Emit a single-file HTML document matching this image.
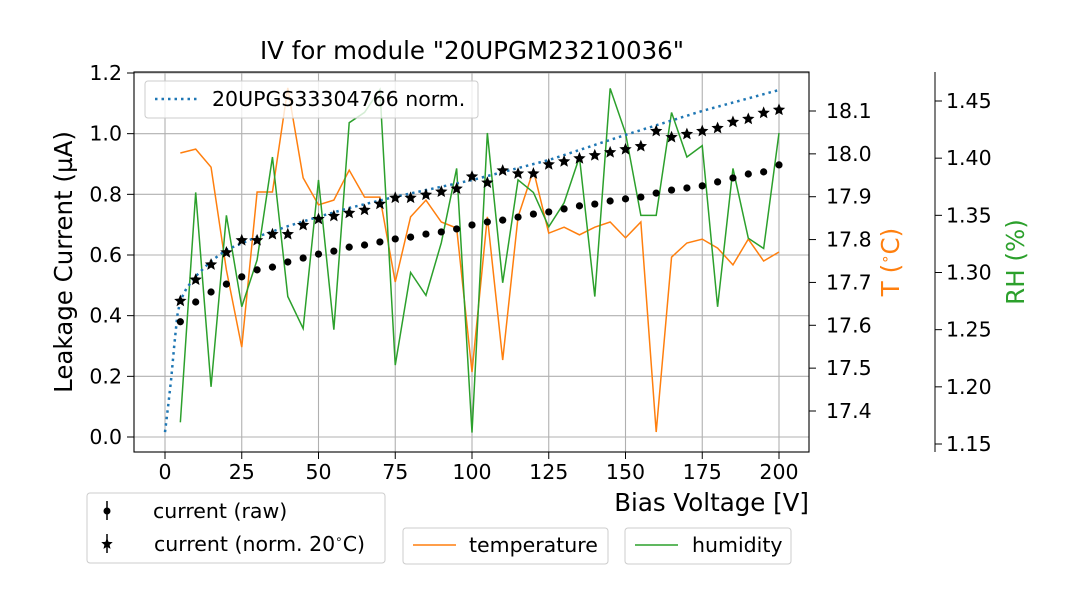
<!DOCTYPE html>
<html><head><meta charset="utf-8">
<style>
body{margin:0;background:#fff;}
svg{display:block;font-family:"DejaVu Sans","Liberation Sans",sans-serif;}
</style></head>
<body>
<svg id="chart" width="1080" height="600" viewBox="0 0 1080 600" xmlns="http://www.w3.org/2000/svg">
<rect width="1080" height="600" fill="#fff"/>
<g id="grid"></g>
<g id="series"></g>
<g id="axes"></g>
<text x="472" y="59" font-size="24.5" text-anchor="middle">IV for module "20UPGM23210036"</text>
<text x="809" y="511" font-size="24.5" text-anchor="end">Bias Voltage [V]</text>
<text transform="translate(72,262) rotate(-90)" font-size="24.5" text-anchor="middle">Leakage Current (µA)</text>
<text transform="translate(899,262) rotate(-90)" font-size="24.5" fill="#ff7f0e" text-anchor="middle">T (<tspan font-size="15" dy="-9">∘</tspan><tspan dy="9">C)</tspan></text>
<text transform="translate(1024,262) rotate(-90)" font-size="24.5" fill="#2ca02c" text-anchor="middle">RH (%)</text>

<g>
<rect x="145" y="81" width="333" height="37" rx="3" fill="#fff" fill-opacity="0.8" stroke="#ccc"/>
<line x1="155" y1="99" x2="199" y2="99" stroke="#1f77b4" stroke-width="2.5" stroke-dasharray="2.5,4"/>
<text x="212" y="106" font-size="20.5">20UPGS33304766 norm.</text>
</g>
<g>
<rect x="87" y="493" width="298" height="70" rx="3" fill="#fff" stroke="#ccc"/>
<line x1="107" y1="501" x2="107" y2="520" stroke="#000" stroke-width="1.5"/>
<circle cx="107" cy="511" r="3.5" fill="#000"/>
<text x="153" y="518" font-size="20.5">current (raw)</text>
<line x1="107" y1="534" x2="107" y2="553" stroke="#000" stroke-width="1.5"/>
<polygon id="legstar" points="" fill="#000"/>
<text x="154" y="551" font-size="20.5">current (norm. 20<tspan font-size="12" dy="-8">∘</tspan><tspan dy="8">C)</tspan></text>
</g>
<g>
<rect x="403" y="528" width="205" height="36" rx="3" fill="#fff" stroke="#ccc"/>
<line x1="413" y1="545" x2="456" y2="545" stroke="#ff7f0e" stroke-width="1.5"/>
<text x="469" y="552" font-size="20.5">temperature</text>
</g>
<g>
<rect x="625" y="528" width="166" height="36" rx="3" fill="#fff" stroke="#ccc"/>
<line x1="635" y1="545" x2="678" y2="545" stroke="#2ca02c" stroke-width="1.5"/>
<text x="692" y="552" font-size="20.5">humidity</text>
</g>
</svg>
<script>
const voltages=[5,10,15,20,25,30,35,40,45,50,55,60,65,70,75,80,85,90,95,100,105,110,115,120,125,130,135,140,145,150,155,160,165,170,175,180,185,190,195,200];
const currentRaw=[0.38,0.445,0.478,0.504,0.528,0.551,0.56,0.577,0.59,0.603,0.613,0.626,0.633,0.643,0.653,0.659,0.669,0.676,0.686,0.699,0.709,0.715,0.725,0.735,0.742,0.752,0.762,0.768,0.778,0.785,0.791,0.804,0.814,0.821,0.828,0.841,0.854,0.867,0.874,0.897];
const currentNorm=[0.45,0.52,0.57,0.61,0.65,0.65,0.67,0.67,0.70,0.72,0.73,0.74,0.75,0.77,0.79,0.79,0.80,0.81,0.82,0.86,0.84,0.88,0.87,0.87,0.90,0.91,0.92,0.93,0.94,0.95,0.96,1.01,0.99,1.00,1.01,1.02,1.04,1.05,1.07,1.08];
const refVoltages=[0,1,2,3,4,5,7,10,15,20,30,40,50,60,75,100,125,150,175,200];
const refCurrent=[0.016,0.10,0.19,0.30,0.40,0.45,0.49,0.53,0.58,0.617,0.66,0.695,0.726,0.755,0.792,0.847,0.913,0.996,1.075,1.144];
const temperature=[18.002,18.011,17.969,17.729,17.549,17.911,17.911,18.154,17.944,17.881,17.892,17.962,17.899,17.899,17.701,17.853,17.892,17.841,17.827,17.491,17.853,17.519,17.853,17.962,17.815,17.829,17.811,17.829,17.841,17.804,17.841,17.351,17.759,17.792,17.801,17.780,17.741,17.801,17.750,17.771];
const humidity=[1.169,1.370,1.200,1.350,1.270,1.311,1.401,1.279,1.251,1.381,1.250,1.431,1.440,1.460,1.219,1.300,1.280,1.326,1.391,1.160,1.422,1.291,1.381,1.370,1.340,1.361,1.401,1.279,1.461,1.422,1.350,1.350,1.440,1.401,1.411,1.270,1.391,1.330,1.321,1.422];
const xTicks=[0,25,50,75,100,125,150,175,200];
const yTicks=[0.0,0.2,0.4,0.6,0.8,1.0,1.2];
const tTicks=[17.4,17.5,17.6,17.7,17.8,17.9,18.0,18.1];
const rhTicks=[1.15,1.20,1.25,1.30,1.35,1.40,1.45];

const NS="http://www.w3.org/2000/svg";
const L=134,R=809,T=72,B=452;
const xs=v=>165+(v-0)*(779-165)/200;
const ys=v=>437-v*(437-73)/1.2;
const ts=v=>111+(18.1-v)*(411-111)/0.7;
const rs=v=>101+(1.45-v)*(444-101)/0.3;
function mk(tag,attrs,parent){const e=document.createElementNS(NS,tag);for(const k in attrs)e.setAttribute(k,attrs[k]);parent.appendChild(e);return e;}
const grid=document.getElementById('grid'),series=document.getElementById('series'),axes=document.getElementById('axes');
const FS=20.5;
xTicks.forEach(t=>{const x=xs(t);
 const g=mk('line',{x1:x,x2:x,y1:T,y2:B,stroke:'#b0b0b0','stroke-width':1.1},grid);
 
 mk('line',{x1:x,x2:x,y1:B,y2:B+7,stroke:'#000','stroke-width':1},axes);
 const lb=mk('text',{x:x,y:B+27,'font-size':FS,'text-anchor':'middle'},axes);lb.textContent=t;
 });
yTicks.forEach(t=>{const y=ys(t);
 const g=mk('line',{x1:L,x2:R,y1:y,y2:y,stroke:'#b0b0b0','stroke-width':1.1},grid);
 
 mk('line',{x1:L-7,x2:L,y1:y,y2:y,stroke:'#000','stroke-width':1},axes);
 const lb=mk('text',{x:L-12,y:y+7,'font-size':FS,'text-anchor':'end'},axes);lb.textContent=t.toFixed(1);
 });
tTicks.forEach(t=>{const y=ts(t);
 mk('line',{x1:R,x2:R+7,y1:y,y2:y,stroke:'#000','stroke-width':1},axes);
 const lb=mk('text',{x:R+17,y:y+7,'font-size':FS},axes);lb.textContent=t.toFixed(1);
 });
mk('line',{x1:935,x2:935,y1:T,y2:B,stroke:'#000','stroke-width':1},axes);
rhTicks.forEach(t=>{const y=rs(t);
 mk('line',{x1:935,x2:942,y1:y,y2:y,stroke:'#000','stroke-width':1},axes);
 const lb=mk('text',{x:946,y:y+7,'font-size':FS},axes);lb.textContent=t.toFixed(2);
 });
const frame=mk('rect',{x:L,y:T,width:R-L,height:B-T,fill:'none',stroke:'#000','stroke-width':1.1},axes);


const tl=mk('polyline',{points:voltages.map((v,i)=>xs(v)+','+ts(temperature[i])).join(' '),fill:'none',stroke:'#ff7f0e','stroke-width':1.5},series);

const hl=mk('polyline',{points:voltages.map((v,i)=>xs(v)+','+rs(humidity[i])).join(' '),fill:'none',stroke:'#2ca02c','stroke-width':1.5},series);

const rl=mk('polyline',{points:refVoltages.map((v,i)=>xs(v)+','+ys(refCurrent[i])).join(' '),fill:'none',stroke:'#1f77b4','stroke-width':2.5,'stroke-dasharray':'2.5,4'},series);


function starPts(cx,cy,r){const p=[];for(let k=0;k<10;k++){const a=-Math.PI/2+k*Math.PI/5;const rr=k%2?r*0.45:r;p.push((cx+rr*Math.cos(a)).toFixed(2)+','+(cy+rr*Math.sin(a)).toFixed(2));}return p.join(' ');}
voltages.forEach((v,i)=>{
 const c=mk('circle',{cx:xs(v),cy:ys(currentRaw[i]),r:3.6,fill:'#000'},series);
 
 const s=mk('polygon',{points:starPts(xs(v),ys(currentNorm[i])+0.5,6.5),fill:'#000'},series);
 
});
document.getElementById('legstar').setAttribute('points',starPts(107,544,6));
</script>
</body></html>
